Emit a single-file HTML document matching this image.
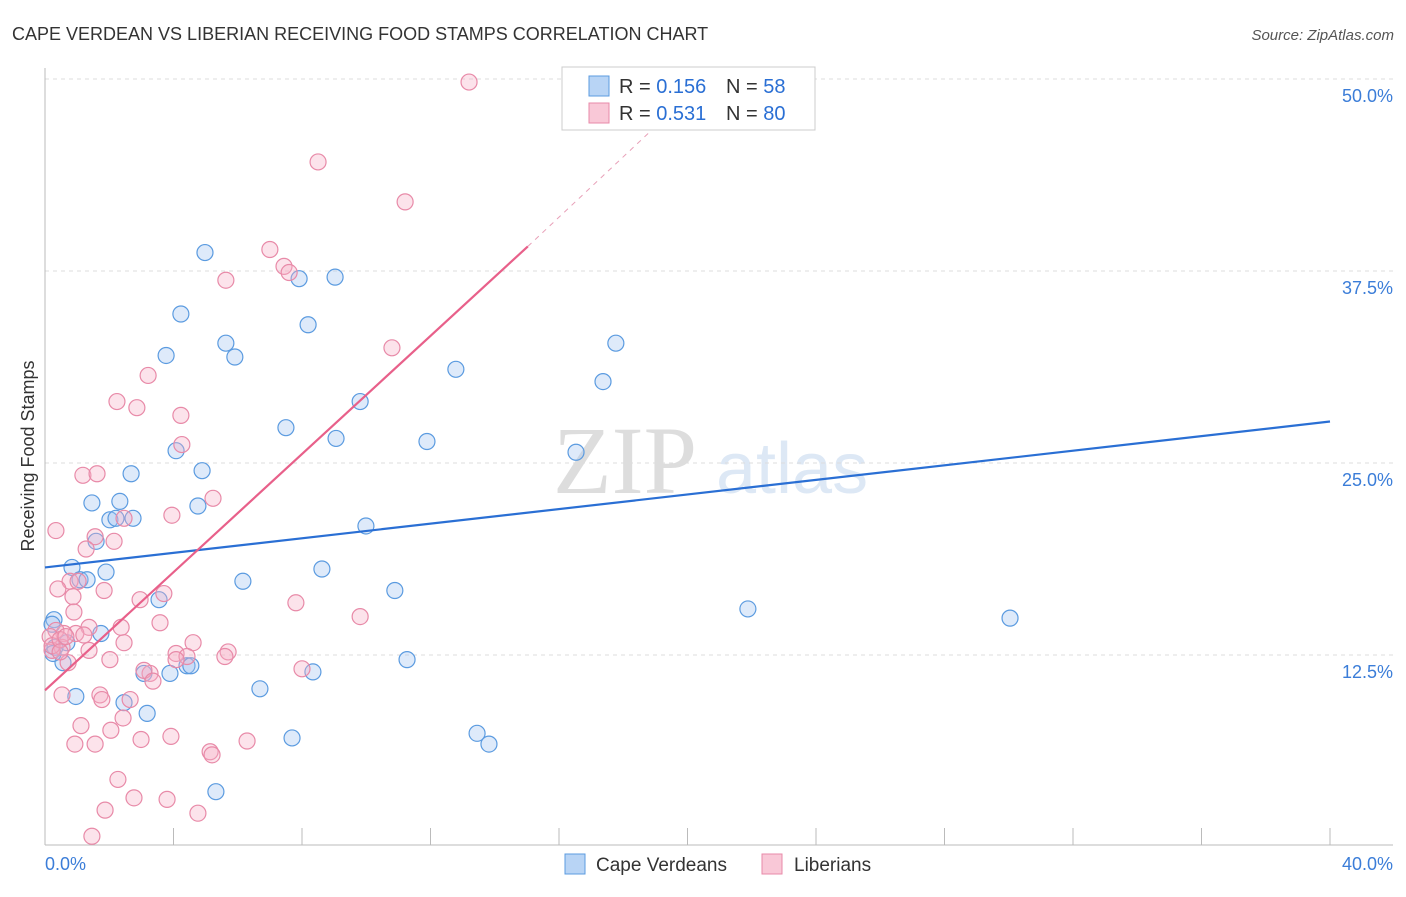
<!DOCTYPE html>
<html><head><meta charset="utf-8"><style>
body{margin:0;background:#fff;font-family:"Liberation Sans",sans-serif}
</style></head><body>
<svg id="c" width="1406" height="892" xmlns="http://www.w3.org/2000/svg">
<text x="12" y="40" font-size="18" fill="#333">CAPE VERDEAN VS LIBERIAN RECEIVING FOOD STAMPS CORRELATION CHART</text>
<text x="1394" y="40" font-size="15" fill="#555" font-style="italic" text-anchor="end">Source: ZipAtlas.com</text>
<text x="34" y="456" font-size="18" fill="#333" text-anchor="middle" transform="rotate(-90 34 456)">Receiving Food Stamps</text>
<g><text x="553" y="493" font-size="96" font-family="Liberation Serif" fill="#ddd">ZIP</text><text x="716" y="493" font-size="72" fill="#c8daf0" opacity="0.6">atlas</text></g>
<g id="grid"></g><g id="marks"></g><g id="lines"></g>
<g>
<rect x="562" y="67" width="253" height="63" fill="#fff" stroke="#ccc"/>
<rect x="589" y="76" width="20" height="20" fill="#b8d4f5" stroke="#5b9be0"/>
<rect x="589" y="103" width="20" height="20" fill="#f9c8d7" stroke="#e88aa8"/>
<text x="619" y="93" font-size="20" fill="#333">R = <tspan fill="#2a6fd4">0.156</tspan><tspan x="726">N = </tspan><tspan fill="#2a6fd4">58</tspan></text>
<text x="619" y="120" font-size="20" fill="#333">R = <tspan fill="#2a6fd4">0.531</tspan><tspan x="726">N = </tspan><tspan fill="#2a6fd4">80</tspan></text>
</g>
<g>
<rect x="565" y="854" width="20" height="20" fill="#b8d4f5" stroke="#5b9be0"/>
<text x="596" y="871" font-size="19" fill="#333">Cape Verdeans</text>
<rect x="762" y="854" width="20" height="20" fill="#f9c8d7" stroke="#e88aa8"/>
<text x="794" y="871" font-size="19" fill="#333">Liberians</text>
</g>
</svg>
<script>
const yTicks=[12.5,25,37.5,50];
const yTickLabels=["12.5%","25.0%","37.5%","50.0%"];
const xTicks=[0,4,8,12,16,20,24,28,32,36,40];
const xTickLabels=["0.0%","40.0%"];
const blueX=[4.98,4.23,3.77,5.63,5.91,7.91,9.03,8.19,12.79,17.77,17.37,9.81,9.06,7.50,11.89,16.53,4.08,4.89,2.68,1.46,2.33,4.76,2.02,2.21,2.74,9.99,1.59,0.84,1.90,1.09,1.31,6.16,8.62,10.89,3.55,21.88,30.04,0.28,0.22,1.74,0.68,0.31,0.56,11.27,3.89,3.08,4.42,4.54,8.34,6.69,0.96,2.46,3.18,13.45,13.82,7.69,5.32,0.25];
const blueY=[38.7,34.7,32.0,32.8,31.9,37.0,37.1,34.0,31.1,32.8,30.3,29.0,26.6,27.3,26.4,25.7,25.8,24.5,24.3,22.4,22.5,22.2,21.3,21.4,21.4,20.9,19.9,18.2,17.9,17.4,17.4,17.3,18.1,16.7,16.1,15.5,14.9,14.8,14.5,13.9,13.3,13.0,12.0,12.2,11.3,11.3,11.8,11.8,11.4,10.3,9.8,9.4,8.7,7.4,6.7,7.1,3.6,12.6];
const pinkX=[13.20,8.50,11.21,7.00,7.44,7.60,5.63,10.80,3.21,2.24,2.86,4.23,4.26,1.18,1.62,5.23,3.95,0.34,1.56,2.15,1.28,2.46,0.78,1.03,0.40,1.84,0.87,3.70,2.96,7.81,0.90,9.81,3.58,2.37,1.37,0.96,1.21,0.59,0.34,0.16,2.46,4.61,2.02,0.72,1.37,0.53,0.22,4.08,4.42,4.08,5.70,5.60,3.27,3.08,3.36,8.00,0.53,1.71,1.77,2.65,2.43,1.12,2.05,3.92,2.99,0.93,1.56,6.29,5.14,5.20,2.27,2.77,1.87,3.80,4.76,1.46,0.22,0.47,0.65,0.47];
const pinkY=[49.8,44.6,42.0,38.9,37.8,37.4,36.9,32.5,30.7,29.0,28.6,28.1,26.2,24.2,24.3,22.7,21.6,20.6,20.2,19.9,19.4,21.4,17.3,17.3,16.8,16.7,16.3,16.5,16.1,15.9,15.3,15.0,14.6,14.3,14.3,13.9,13.8,13.9,14.1,13.7,13.3,13.3,12.2,12.0,12.8,13.0,12.8,12.6,12.4,12.2,12.7,12.4,11.3,11.5,10.8,11.6,9.9,9.9,9.6,9.6,8.4,7.9,7.6,7.2,7.0,6.7,6.7,6.9,6.2,6.0,4.4,3.2,2.4,3.1,2.2,0.7,13.1,13.5,13.7,12.7];
const blueTrend=[[0,18.2],[40,27.7]];
const pinkTrend=[[0,10.2],[15.03,39.1]];
const pinkDash=[[15.03,39.1],[18.9,46.7]];
const X=v=>45+v*32.125, Y=v=>847-v*15.36;
const NS="http://www.w3.org/2000/svg";
function mk(t,a,p){const e=document.createElementNS(NS,t);for(const k in a)e.setAttribute(k,a[k]);p.appendChild(e);return e;}
const g=document.getElementById('grid');
yTicks.forEach((t,i)=>{
 const l=mk('line',{x1:45,x2:1393,y1:Y(t),y2:Y(t),stroke:'#ddd','stroke-dasharray':'4,4'},g);
 
 
 const tx=mk('text',{x:1393,y:Y(t)+23,'font-size':18,fill:'#3b7dd8','text-anchor':'end'},g);
 tx.textContent=yTickLabels[i];
 
 
});
const ax=mk('line',{x1:45,x2:45,y1:68,y2:845,stroke:'#bbb'},g);


const bx=mk('line',{x1:45,x2:1393,y1:845,y2:845,stroke:'#bbb'},g);


xTicks.forEach(t=>{const l=mk('line',{x1:X(t),x2:X(t),y1:828,y2:845,stroke:'#bbb'},g);
 
 });
[[0,'start',45],[40,'end',1393]].forEach((d,i)=>{const tx=mk('text',{x:d[2],y:870,'font-size':18,fill:'#3b7dd8','text-anchor':d[1]},g);
 tx.textContent=xTickLabels[i];
 
 });
const m=document.getElementById('marks');
function pts(xs,ys,fill,stroke,name){xs.forEach((x,i)=>{const c=mk('circle',{cx:X(x),cy:Y(ys[i]),r:8,fill:fill,stroke:stroke,'stroke-width':1.2},m);
 
 });}
pts(blueX,blueY,'rgba(160,196,240,0.35)','#5b9be0','cape-verdean-point');
pts(pinkX,pinkY,'rgba(245,175,198,0.35)','#e88aa8','liberian-point');
const L=document.getElementById('lines');
function ln(p,st,w,dash,name){const l=mk('line',{x1:X(p[0][0]),y1:Y(p[0][1]),x2:X(p[1][0]),y2:Y(p[1][1]),stroke:st,'stroke-width':w},L);
 if(dash)l.setAttribute('stroke-dasharray',dash);
 
 }
ln(blueTrend,'#2a6fd4',2.2,null,'cape-verdean-trendline');
ln(pinkTrend,'#e8608a',2.2,null,'liberian-trendline');
ln(pinkDash,'#e8a0b8',1,'5,5','liberian-trendline-extension');
</script>
</body></html>
